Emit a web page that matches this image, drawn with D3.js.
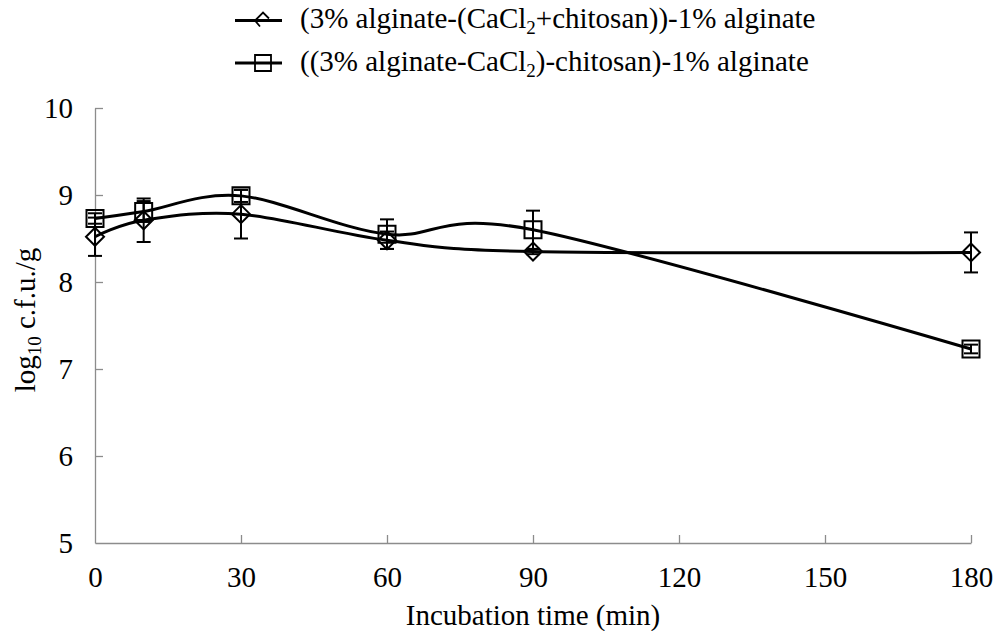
<!DOCTYPE html>
<html>
<head>
<meta charset="utf-8">
<script src="https://cdn.jsdelivr.net/npm/d3@7"></script>
<style>
  body { margin: 0; background: #fff; }
</style>
</head>
<body>
<div id="chart-area"></div>
<script>
// data
var times = [0, 10, 30, 60, 90, 180]
var seriesNames = ["(3% alginate-(CaCl2+chitosan))-1% alginate", "((3% alginate-CaCl2)-chitosan)-1% alginate"]
var diamondVals = [8.52, 8.71, 8.78, 8.48, 8.35, 8.34]
var diamondErr = [0.22, 0.25, 0.28, 0.10, 0.03, 0.23]
var squareVals = [8.73, 8.81, 8.99, 8.55, 8.60, 7.23]
var squareErr = [0.06, 0.12, 0.07, 0.17, 0.22, 0.05]
var xTicks = [0, 30, 60, 90, 120, 150, 180]
var yTicks = [5, 6, 7, 8, 9, 10]

var font = "'Liberation Serif', 'Times New Roman', serif"
var fs = 29

var cw = 998
var ch = 631
var m = {l: 95, t: 108, r: 27, b: 88}
var w = cw - m.l - m.r
var h = ch - m.t - m.b

var svg = d3.select("#chart-area").append("svg")
    .attr("width", cw)
    .attr("height", ch)
    .attr("font-family", font)

var g = svg.append("g").attr("transform", "translate(" + m.l + ", " + m.t + ")")

var x = d3.scaleLinear().domain([0, 180]).range([0, w])
var y = d3.scaleLinear().domain([5, 10]).range([h, 0])

// axes, ticks point inward, grey lines
var xAxis = g.append("g")
    .attr("transform", "translate(0, " + h + ")")
    .call(d3.axisBottom(x).tickValues(xTicks).tickFormat(d3.format("d"))
        .tickSize(-8).tickSizeOuter(0).tickPadding(23))
var yAxis = g.append("g")
    .call(d3.axisLeft(y).tickValues(yTicks).tickFormat(d3.format("d"))
        .tickSize(-8).tickSizeOuter(0).tickPadding(22))

g.selectAll(".domain, .tick line").attr("stroke", "#8c8c8c").attr("stroke-width", 1.3)
g.selectAll(".tick text")
    .attr("font-size", fs + "px")
    .attr("font-family", font)
    .attr("fill", "#000")
xAxis.selectAll(".tick line").filter(d => d === 0).remove()
yAxis.selectAll(".tick line").filter(d => d === 5).remove()

// axis labels
g.append("text")
    .attr("x", 533 - m.l)
    .attr("y", 625 - m.t)
    .attr("font-size", fs + "px")
    .attr("text-anchor", "middle")
    .text("Incubation time (min)")

var yl = svg.append("text")
    .attr("transform", "translate(35, 320) rotate(-90)")
    .attr("font-size", fs + "px")
    .attr("text-anchor", "middle")
yl.append("tspan").text("log")
yl.append("tspan").attr("font-size", "19px").attr("dy", 6).text("10")
yl.append("tspan").attr("dy", -6).text(" c.f.u./g")

var line = d3.line()
    .x((d, i) => x(times[i]))
    .y(d => y(d))
    .curve(d3.curveCardinal.tension(0))

function drawSeries(vals, errs, shape) {
    g.append("path")
        .attr("d", line(vals))
        .attr("fill", "none")
        .attr("stroke", "#000")
        .attr("stroke-width", 3)

    var eb = g.append("g").attr("stroke", "#000").attr("stroke-width", 2)
    vals.forEach((v, i) => {
        var cx = x(times[i])
        eb.append("line").attr("x1", cx).attr("x2", cx)
            .attr("y1", y(v - errs[i])).attr("y2", y(v + errs[i]))
        ;[v - errs[i], v + errs[i]].forEach(e => {
            eb.append("line").attr("x1", cx - 7).attr("x2", cx + 7)
                .attr("y1", y(e)).attr("y2", y(e))
        })
    })

    g.append("g").selectAll("path")
        .data(vals)
        .enter()
        .append("path")
        .attr("transform", (d, i) => "translate(" + x(times[i]) + "," + y(d) + ")")
        .attr("d", shape === "diamond" ? "M0,-9L9,0L0,9L-9,0Z" : "M-8.5,-8.5H8.5V8.5H-8.5Z")
        .attr("fill", "none")
        .attr("stroke", "#000")
        .attr("stroke-width", 2)
}

drawSeries(diamondVals, diamondErr, "diamond")
drawSeries(squareVals, squareErr, "square")

// legend
var leg = svg.append("g")
function legendLabel(t, name) {
    var parts = name.split("CaCl2")
    t.append("tspan").text(parts[0] + "CaCl")
    t.append("tspan").attr("font-size", "19px").attr("dy", 6).text("2")
    t.append("tspan").attr("dy", -6).text(parts[1])
}
var ly = [20.5, 63]
ly.forEach((yy, i) => {
    leg.append("line").attr("x1", 235).attr("x2", 282).attr("y1", yy).attr("y2", yy)
        .attr("stroke", "#000").attr("stroke-width", 3)
    leg.append("path")
        .attr("transform", "translate(263," + yy + ")")
        .attr("d", i === 0 ? "M6,-2L0,-8L-8,0L-3,6" : "M-8,-8H8V8H-8Z")
        .attr("fill", "none")
        .attr("stroke", "#000")
        .attr("stroke-width", 1.8)
    var t = leg.append("text")
        .attr("x", 300)
        .attr("y", yy + 7.5)
        .attr("font-size", fs + "px")
    legendLabel(t, seriesNames[i])
})
</script>
</body>
</html>
